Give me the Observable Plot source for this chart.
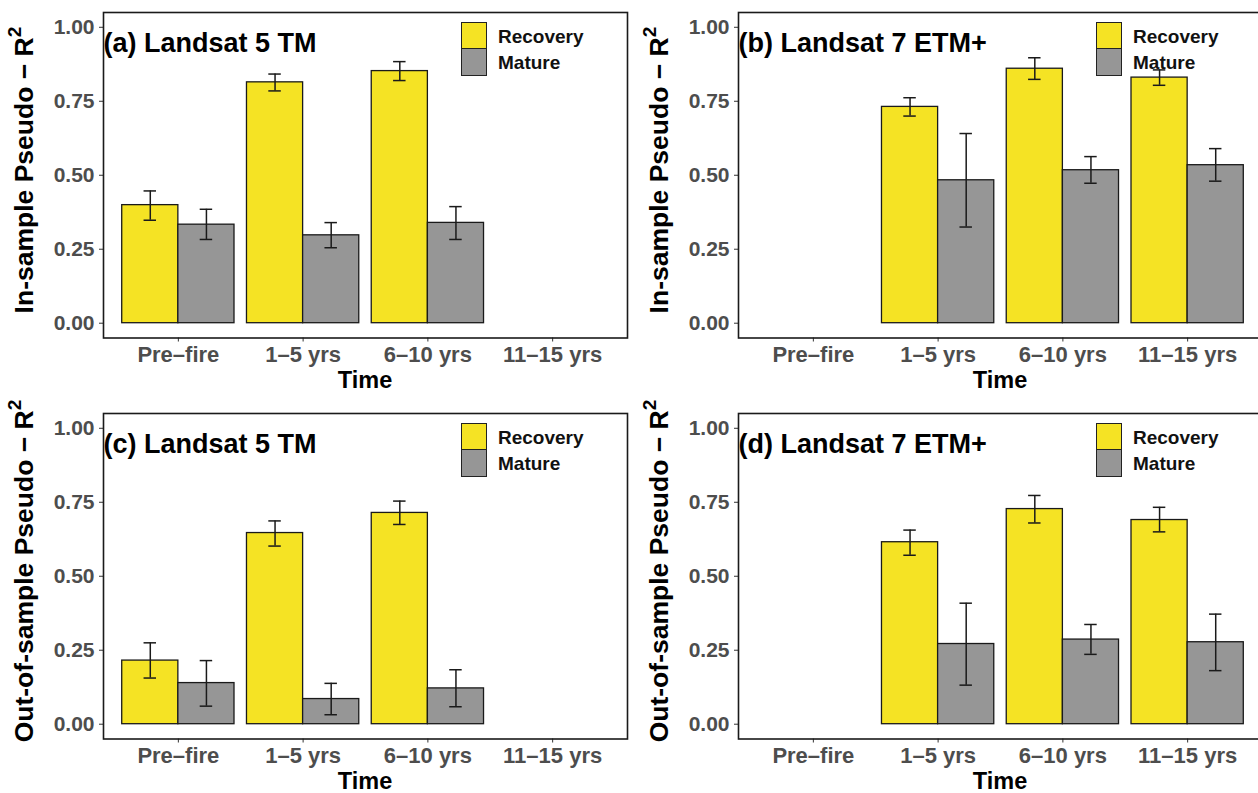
<!DOCTYPE html>
<html>
<head>
<meta charset="utf-8">
<script src="https://cdn.jsdelivr.net/npm/d3@7"></script>
<script src="https://cdn.jsdelivr.net/npm/@observablehq/plot@0.6"></script>
<style>
html, body { margin: 0; padding: 0; background: #fff; }
#root { position: relative; width: 1258px; height: 793px; overflow: hidden;
  font-family: "Liberation Sans", Arial, Helvetica, sans-serif; font-weight: bold; }
.panel { position: absolute; width: 630px; height: 396px; }
.panel svg { position: absolute; left: 0; top: 0; overflow: visible; }
.panel g[aria-label^="x-axis"] text, .panel g[aria-label^="y-axis"] text { fill: #4d4d4d; }
.panel g[aria-label^="x-axis"] text { font-size: 22px; }
.panel g[aria-label^="y-axis"] text { font-size: 21px; }
.panel g[aria-label^="x-axis"] path, .panel g[aria-label^="y-axis"] path,
.panel g[aria-label^="x-axis"] line, .panel g[aria-label^="y-axis"] line { stroke: #333; }
.ytitle { position: absolute; left: 24px; top: 170px; transform: translate(-50%, -50%) rotate(-90deg);
  white-space: nowrap; font-size: 26.5px; line-height: 1; color: #000; }
.ytitle sup { font-size: 0.72em; vertical-align: 0.62em; line-height: 0; }
.xtitle { position: absolute; left: 365px; top: 381px; transform: translate(-50%, -50%);
  font-size: 23.5px; line-height: 1; color: #000; white-space: nowrap; }
.legend { position: absolute; left: 461px; top: 21.7px; }
.key { position: absolute; left: 0; width: 26px; height: 27.5px; box-sizing: border-box; border: 1.6px solid #222; }
.ltext { position: absolute; left: 37px; font-size: 19px; line-height: 1; color: #111; white-space: nowrap; transform: translateY(-50%); }
</style>
</head>
<body>
<div id="root"></div>
<script>
// ---- data ----
const categories = ["Pre–fire", "1–5 yrs", "6–10 yrs", "11–15 yrs"];
const groups = ["Recovery", "Mature"];
const groupColors = ["#f5e324", "#969696"];

const titles = ["(a) Landsat 5 TM", "(b) Landsat 7 ETM+", "(c) Landsat 5 TM", "(d) Landsat 7 ETM+"];
const yTitles = ["In-sample Pseudo", "In-sample Pseudo", "Out-of-sample Pseudo", "Out-of-sample Pseudo"];
const xTitle = "Time";
const yTicks = [0, 0.25, 0.5, 0.75, 1];

// (a) Landsat 5 TM, in-sample
const aRecovery   = [0.399, 0.814, 0.852, null];
const aRecoveryLo = [0.348, 0.785, 0.820, null];
const aRecoveryHi = [0.447, 0.842, 0.884, null];
const aMature     = [0.333, 0.297, 0.339, null];
const aMatureLo   = [0.283, 0.255, 0.283, null];
const aMatureHi   = [0.385, 0.340, 0.394, null];

// (b) Landsat 7 ETM+, in-sample
const bRecovery   = [null, 0.731, 0.860, 0.830];
const bRecoveryLo = [null, 0.700, 0.824, 0.804];
const bRecoveryHi = [null, 0.762, 0.897, 0.856];
const bMature     = [null, 0.483, 0.517, 0.534];
const bMatureLo   = [null, 0.325, 0.473, 0.480];
const bMatureHi   = [null, 0.641, 0.563, 0.590];

// (c) Landsat 5 TM, out-of-sample
const cRecovery   = [0.215, 0.646, 0.714, null];
const cRecoveryLo = [0.156, 0.602, 0.675, null];
const cRecoveryHi = [0.275, 0.687, 0.754, null];
const cMature     = [0.139, 0.085, 0.121, null];
const cMatureLo   = [0.061, 0.032, 0.059, null];
const cMatureHi   = [0.215, 0.138, 0.184, null];

// (d) Landsat 7 ETM+, out-of-sample
const dRecovery   = [null, 0.615, 0.727, 0.690];
const dRecoveryLo = [null, 0.571, 0.680, 0.650];
const dRecoveryHi = [null, 0.656, 0.773, 0.733];
const dMature     = [null, 0.271, 0.286, 0.277];
const dMatureLo   = [null, 0.132, 0.236, 0.181];
const dMatureHi   = [null, 0.409, 0.337, 0.372];

function rowsFor(group, v, lo, hi) {
  const out = [];
  categories.forEach((c, i) => {
    if (v[i] != null) out.push({cat: c, group, value: v[i], lo: lo[i], hi: hi[i]});
  });
  return out;
}

function makePanel(idx, left, top, rec, recLo, recHi, mat, matLo, matHi) {
  const W = 630, H = 396, mL = 103, mR = 3, mT = 12, mB = 58.5;
  const step = (W - mL - mR) / 4.2, bw = step * 0.9, half = bw / 2, cap = step * 0.1;
  const recRows = rowsFor("Recovery", rec, recLo, recHi);
  const matRows = rowsFor("Mature", mat, matLo, matHi);
  const ink = "#1a1a1a";
  const capRec = {insetLeft: half / 2 - cap / 2, insetRight: bw - half / 2 - cap / 2};
  const capMat = {insetLeft: half + half / 2 - cap / 2, insetRight: half / 2 - cap / 2};
  const chart = Plot.plot({
    width: W, height: H,
    marginLeft: mL, marginRight: mR, marginTop: mT, marginBottom: mB,
    style: {fontFamily: '"Liberation Sans", Arial, Helvetica, sans-serif', fontSize: "20px",
      fontWeight: "bold", background: "transparent", overflow: "visible"},
    x: {domain: categories, type: "band", paddingInner: 0.1, paddingOuter: 0.15, round: false,
      label: null, tickSize: 4, tickPadding: 4},
    y: {domain: [-0.05, 1.05], ticks: yTicks, tickFormat: d3.format(".2f"), label: null,
      tickSize: 4, tickPadding: 5},
    color: {domain: groups, range: groupColors},
    marks: [
      Plot.barY(recRows, {x: "cat", y: "value", fill: "group", stroke: ink, strokeWidth: 1.3, insetLeft: 0, insetRight: half}),
      Plot.barY(matRows, {x: "cat", y: "value", fill: "group", stroke: ink, strokeWidth: 1.3, insetLeft: half, insetRight: 0}),
      Plot.ruleX(recRows, {x: "cat", y1: "lo", y2: "hi", dx: -half / 2, stroke: ink, strokeWidth: 1.5}),
      Plot.ruleX(matRows, {x: "cat", y1: "lo", y2: "hi", dx: half / 2, stroke: ink, strokeWidth: 1.5}),
      Plot.tickY(recRows, {x: "cat", y: "lo", stroke: ink, strokeWidth: 1.5, ...capRec}),
      Plot.tickY(recRows, {x: "cat", y: "hi", stroke: ink, strokeWidth: 1.5, ...capRec}),
      Plot.tickY(matRows, {x: "cat", y: "lo", stroke: ink, strokeWidth: 1.5, ...capMat}),
      Plot.tickY(matRows, {x: "cat", y: "hi", stroke: ink, strokeWidth: 1.5, ...capMat}),
      Plot.frame({stroke: ink, strokeWidth: 1.6}),
      Plot.text([titles[idx]], {frameAnchor: "top-left", dx: 0, dy: 20, lineAnchor: "top",
        textAnchor: "start", fontSize: 27, fontWeight: "bold", fill: "#000"})
    ]
  });
  const div = document.createElement("div");
  div.className = "panel";
  div.style.left = left + "px";
  div.style.top = top + "px";
  div.appendChild(chart);

  const yt = document.createElement("div");
  yt.className = "ytitle";
  yt.innerHTML = yTitles[idx] + " − R<sup>2</sup>";
  div.appendChild(yt);

  const xt = document.createElement("div");
  xt.className = "xtitle";
  xt.textContent = xTitle;
  div.appendChild(xt);

  const lg = document.createElement("div");
  lg.className = "legend";
  groups.forEach((g, i) => {
    const k = document.createElement("div");
    k.className = "key";
    k.style.top = (i * 26.8) + "px";
    k.style.background = groupColors[i];
    lg.appendChild(k);
    const t = document.createElement("div");
    t.className = "ltext";
    t.style.top = (i * 26.8 + 14) + "px";
    t.textContent = g;
    lg.appendChild(t);
  });
  div.appendChild(lg);
  document.getElementById("root").appendChild(div);
}

makePanel(0, 0, 0, aRecovery, aRecoveryLo, aRecoveryHi, aMature, aMatureLo, aMatureHi);
makePanel(1, 635, 0, bRecovery, bRecoveryLo, bRecoveryHi, bMature, bMatureLo, bMatureHi);
makePanel(2, 0, 401, cRecovery, cRecoveryLo, cRecoveryHi, cMature, cMatureLo, cMatureHi);
makePanel(3, 635, 401, dRecovery, dRecoveryLo, dRecoveryHi, dMature, dMatureLo, dMatureHi);
</script>
</body>
</html>
